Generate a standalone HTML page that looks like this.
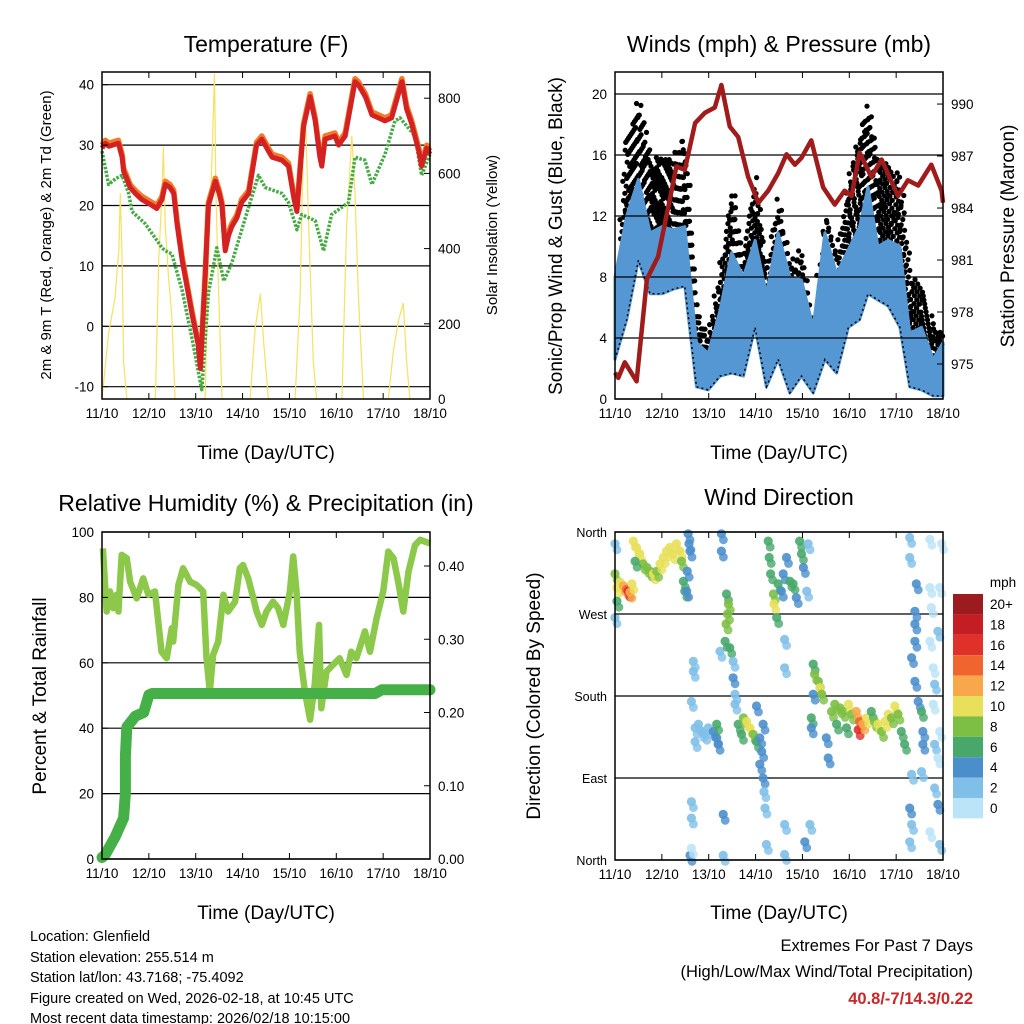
<!DOCTYPE html>
<html><head><meta charset="utf-8">
<style>
html,body{margin:0;padding:0;background:#fff;}
svg{display:block;font-family:"Liberation Sans",sans-serif;}
</style></head>
<body>
<svg id="s" width="1024" height="1024" viewBox="0 0 1024 1024" xmlns="http://www.w3.org/2000/svg">
<rect width="1024" height="1024" fill="#fff"/>
<g id="g"></g>
<g font-size="23" text-anchor="middle" fill="#000">
<text x="266" y="52">Temperature (F)</text>
<text x="779" y="52">Winds (mph) &amp; Pressure (mb)</text>
<text x="266" y="511">Relative Humidity (%) &amp; Precipitation (in)</text>
<text x="779" y="505">Wind Direction</text>
</g>
<g font-size="19" text-anchor="middle">
<text x="266" y="459">Time (Day/UTC)</text>
<text x="779" y="459">Time (Day/UTC)</text>
<text x="266" y="919">Time (Day/UTC)</text>
<text x="779" y="919">Time (Day/UTC)</text>
<text transform="translate(51,235) rotate(-90)" font-size="15">2m &amp; 9m T (Red, Orange) &amp; 2m Td (Green)</text>
<text transform="translate(497,235) rotate(-90)" font-size="15">Solar Insolation (Yellow)</text>
<text transform="translate(562,236) rotate(-90)">Sonic/Prop Wind &amp; Gust (Blue, Black)</text>
<text transform="translate(1014,236) rotate(-90)">Station Pressure (Maroon)</text>
<text transform="translate(46,696) rotate(-90)">Percent &amp; Total Rainfall</text>
<text transform="translate(540,696) rotate(-90)">Direction (Colored By Speed)</text>
</g>
<g font-size="14.5" fill="#000">
<text x="30" y="941">Location: Glenfield</text>
<text x="30" y="962">Station elevation: 255.514 m</text>
<text x="30" y="982">Station lat/lon: 43.7168; -75.4092</text>
<text x="30" y="1003">Figure created on Wed, 2026-02-18, at 10:45 UTC</text>
<text x="30" y="1023">Most recent data timestamp: 2026/02/18 10:15:00</text>
</g>
<g font-size="16.5" text-anchor="end">
<text x="973" y="951">Extremes For Past 7 Days</text>
<text x="973" y="977">(High/Low/Max Wind/Total Precipitation)</text>
<text x="973" y="1004" fill="#c8282a" font-weight="bold">40.8/-7/14.3/0.22</text>
</g>
</svg>
<script>
const dayLabels=["11/10","12/10","13/10","14/10","15/10","16/10","17/10","18/10"];
const tempT=[0,0.07,0.15,0.35,0.43,0.46,0.6,0.71,0.85,1.07,1.17,1.28,1.35,1.45,1.53,1.6,1.71,1.85,1.92,2.05,2.1,2.2,2.27,2.42,2.5,2.56,2.63,2.7,2.77,2.88,2.98,3.13,3.3,3.41,3.55,3.63,3.84,3.98,4.1,4.16,4.3,4.44,4.55,4.65,4.69,4.76,4.97,5.05,5.19,5.4,5.47,5.62,5.76,6.04,6.18,6.4,6.5,6.61,6.76,6.82,6.93,7];
const temp2m=[29.5,30.3,29.8,30.3,28,25.7,23,22,21,20,19.5,21,23.5,23,22,17,11,5,2,-3,-7,8,20,24,22,20,12.5,15,16.5,18,20.5,22,30,31,29,28,27.5,26.5,21,19,33,38,34,28,26.5,31,31.5,30,31.5,40.5,40,38,35,34,34.5,40.5,36,33.5,29,26.5,29.5,28.5];
const tdT=[0,0.14,0.3,0.43,0.57,0.64,0.92,1.28,1.35,1.49,1.71,1.92,2.13,2.27,2.45,2.6,2.77,3.06,3.34,3.48,3.84,3.98,4.16,4.26,4.55,4.73,4.9,5.26,5.4,5.61,5.76,6.04,6.25,6.36,6.68,6.82,7];
const dew2m=[29,23.5,24.5,25,22,19,17,13,12.5,12,6,-2,-10.5,5.5,13,7.5,10.5,18,25,23,22,20.5,16,18.5,17.5,12.5,18.5,20.5,28,27.5,23.5,28.5,34,34.5,31.5,25,28.5];
const solarT=[0,0.14,0.28,0.36,0.39,0.43,0.46,0.53,1.14,1.21,1.28,1.31,1.35,1.42,1.49,1.56,2.2,2.27,2.35,2.4,2.43,2.49,2.56,3.16,3.27,3.38,3.45,3.55,4.12,4.23,4.3,4.35,4.41,4.51,4.58,5.12,5.22,5.33,5.4,5.47,5.58,6.11,6.22,6.33,6.43,6.5,6.57,7];
const solarV=[0,175,270,400,547,370,100,0,0,370,547,670,460,325,220,0,0,370,650,865,547,280,0,0,190,280,150,0,0,280,700,725,460,100,0,0,460,700,547,280,0,0,130,210,255,100,0,0];
const windT=[0,0.25,0.5,0.75,1.0,1.24,1.49,1.74,1.99,2.24,2.49,2.74,2.99,3.23,3.48,3.73,3.98,4.23,4.48,4.73,4.98,5.22,5.4,5.61,5.83,6.08,6.29,6.54,6.79,7.0];
const blueHi=[8.0,12.0,14.4,10.9,11.3,11.1,11.3,3.7,3.0,5.8,9.6,8.0,10.4,6.9,10.9,8.0,7.8,4.7,10.9,8.2,9.8,11.3,13.9,10.0,10.4,10.0,4.3,4.7,2.6,3.7];
const blueLo=[2.6,5.2,9.1,6.9,6.9,7.2,7.4,0.8,0.6,1.5,1.7,1.5,4.7,0.8,2.6,0.4,1.5,0.4,2.6,1.7,4.7,5.2,6.9,6.5,6.1,4.7,0.8,0.6,0.2,0.2];
const gustHi=[4.7,16.8,19.6,15.9,15.7,15.7,17.2,5.8,4.1,8.0,13.9,9.1,14.8,8.0,13.1,8.7,9.8,4.7,12.2,9.1,13.9,17.4,19.2,15.7,15.3,14.6,8.0,7.4,4.7,4.3];
const presT=[0,0.07,0.21,0.46,0.68,0.92,1.14,1.31,1.49,1.71,1.92,2.13,2.27,2.45,2.63,2.84,3.06,3.27,3.48,3.66,3.84,3.98,4.19,4.44,4.69,4.9,5.05,5.22,5.47,5.69,6.04,6.25,6.47,6.75,6.97,7.0];
const presV=[974.5,974.2,975.1,974.0,979.9,981.2,984.1,986.4,986.2,988.9,989.5,989.8,991.1,988.7,988.1,985.8,984.3,985.0,986.0,987.1,986.5,986.9,987.9,985.2,984.2,985.0,984.7,987.2,985.8,986.8,984.7,985.6,985.3,986.5,985.0,984.3];
const rhT=[0.02,0.1,0.17,0.24,0.31,0.35,0.42,0.53,0.6,0.74,0.88,0.99,1.13,1.27,1.38,1.49,1.52,1.63,1.73,1.88,2.02,2.16,2.23,2.3,2.37,2.48,2.59,2.69,2.84,2.94,3.01,3.12,3.23,3.3,3.41,3.51,3.65,3.76,3.87,4.01,4.08,4.15,4.22,4.33,4.44,4.54,4.63,4.68,4.79,4.93,5.07,5.22,5.32,5.43,5.61,5.72,5.86,6.0,6.11,6.22,6.32,6.43,6.54,6.68,6.79,7.0];
const rhV=[95,75.7,81.8,76.7,80.8,75.7,93,92,84.8,79.7,85.8,80.8,81.8,63.4,61.4,70.6,66.5,83.8,88.9,84.8,83.8,81.8,61.4,51.2,62.4,66.5,80.8,75.7,78.7,88.9,89.9,85.8,79.7,75.7,71.6,75.7,78.7,76.7,71.6,81.8,92.5,81.8,63.4,51.2,42.6,53.3,71.6,46.1,57.3,59.4,61.4,56.3,63.4,61.4,69.6,63.4,73.6,81.8,94,92,84.8,75.7,87.9,96,97.6,96.5];
const prT=[0,0.07,0.28,0.46,0.5,0.5,0.53,0.71,0.89,1.0,1.07,5.83,5.97,7];
const prV=[0.002,0.006,0.03,0.056,0.09,0.14,0.18,0.195,0.2,0.224,0.226,0.226,0.231,0.231];
const dirDay=[0,0.04,0.11,0.18,0.25,0.28,0.32,0.36,0.04,0,0,0.39,0.46,0.53,0.6,0.68,0.75,0.82,0.89,0.96,1.03,1.1,1.17,1.24,1.31,1.39,1.42,1.46,1.49,0.43,1.56,1.58,1.6,1.54,1.53,1.67,1.67,1.63,1.71,1.78,1.85,1.92,1.99,1.71,2.1,2.17,2.2,2.17,1.63,1.63,1.6,1.63,2.27,2.27,2.31,2.31,2.24,2.38,2.42,2.4,2.37,2.35,2.45,2.52,2.52,2.56,2.56,2.63,2.7,2.74,2.81,2.88,2.95,3.02,3.09,3.13,3.09,3.16,3.18,3.2,3.16,3.02,3.27,3.29,3.32,3.38,3.39,3.45,3.48,3.55,3.59,3.66,3.73,3.8,3.87,3.94,3.98,4.02,4.09,4.12,3.62,3.62,3.62,3.23,4.05,4.16,3.62,4.23,4.26,4.34,4.37,4.41,4.23,4.19,4.19,4.55,4.51,4.62,4.69,4.8,4.87,4.98,5.05,5.15,5.22,5.19,5.29,5.37,5.47,5.54,5.61,5.69,5.76,5.83,5.9,5.97,6.04,6.11,6.18,4.73,4.94,6.29,6.29,6.43,6.4,6.4,6.4,6.33,6.4,6.47,6.54,6.57,6.57,6.54,6.33,6.29,6.33,6.29,6.72,6.72,6.75,6.72,6.79,6.82,6.79,6.89,6.93,6.82,6.89,6.82,6.89,6.93,6.97,6.93,6.72];
const dirDeg=[314,299,305,301,297,295,294,303,284,347,266,350,343,336,325,321,317,314,317,325,332,339,343,336,347,339,328,306,295,328,358,347,339,317,295,218,207,174,145,149,141,138,145,130,141,134,127,149,64,46,5,13,358,339,50,5,229,292,281,270,259,240,233,218,200,182,171,149,138,156,152,145,138,130,134,119,105,90,75,57,149,169,350,332,314,292,281,266,303,295,314,332,306,303,288,350,336,321,295,347,242,211,39,17,20,39,6,215,204,196,189,182,182,156,145,112,134,163,171,167,163,171,160,163,152,143,149,156,163,152,149,141,152,160,156,169,160,141,127,149,145,354,332,303,273,259,240,222,196,174,163,141,127,97,94,57,39,20,352,299,277,240,211,193,171,251,141,127,112,79,61,17,347,299,31];
const dirSpd=[8,10,10,12,14,16,12,10,6,2,2,10,10,10,8,8,8,10,8,10,10,10,10,10,10,10,8,6,6,6,4,4,4,4,4,2,2,2,2,2,2,2,2,2,4,4,4,6,2,2,4,1,4,4,4,2,2,6,8,8,8,6,6,2,4,2,2,6,6,8,10,10,8,6,4,4,4,4,2,2,4,4,6,6,6,8,10,6,6,4,4,4,6,6,4,6,6,4,2,2,2,2,2,2,4,2,2,6,8,8,10,8,4,6,4,4,4,8,8,8,8,10,8,12,14,16,12,10,6,8,10,8,10,10,8,10,8,6,6,6,6,2,2,4,4,4,4,4,4,4,6,4,4,2,2,4,2,2,0,0,1,1,1,2,1,2,1,2,1,2,4,2,1,1,1];
const speedLabels=["20+","18","16","14","12","10","8","6","4","2","0"];
const speedColors=["#9b1b1e","#c41e24","#e0302a","#f06430","#f8a84a","#e8e05a","#7cbf44","#48a86a","#4a8fcc","#80bfe8","#bce4f8"];

const NS="http://www.w3.org/2000/svg";
const G=document.getElementById('g');
function mk(tag,at,parent){const e=document.createElementNS(NS,tag);for(const k in at)e.setAttribute(k,at[k]);(parent||G).appendChild(e);return e;}
function path(xs,ys,fx,fy){return xs.map((t,i)=>(i?'L':'M')+fx(t).toFixed(1)+','+fy(ys[i]).toFixed(1)).join('');}
function colorFor(s){let i=Math.min(10,Math.floor(s/2));return speedColors[10-i];}
function interp(xs,ys,t){for(let i=1;i<xs.length;i++){if(t<=xs[i]){const f=(t-xs[i-1])/(xs[i]-xs[i-1]||1);return ys[i-1]+f*(ys[i]-ys[i-1]);}}return ys[ys.length-1];}

const P1={l:102,r:430,t:72,b:399},P2={l:615,r:943,t:72,b:399},P3={l:102,r:430,t:532,b:859},P4={l:615,r:943,t:532,b:860};
const xs1=d=>102+d*46.86, xs2=d=>615+d*46.86;
const yT=v=>326.3-v*6.04, ySol=v=>399-v*0.376;
const yW=v=>399-v*15.25, yP=v=>364-(v-975)*17.33;
const yRH=v=>859-v*3.27, yPr=v=>859-v*732.5;
const yD=v=>860-v*0.9111;

function grid(P,vals,fy,name){vals.forEach(v=>{const l=mk('line',{x1:P.l,x2:P.r,y1:fy(v),y2:fy(v),stroke:'#000','stroke-width':1.2});});}
function frame(P,fx,name){
  const r=mk('rect',{x:P.l,y:P.t,width:P.r-P.l,height:P.b-P.t,fill:'none',stroke:'#000','stroke-width':1.5});
  
  dayLabels.forEach((lab,i)=>{const x=fx(i);
    mk('line',{x1:x,x2:x,y1:P.b,y2:P.b-6,stroke:'#000'});mk('line',{x1:x,x2:x,y1:P.t,y2:P.t+6,stroke:'#000'});
    const t=mk('text',{x:x,y:P.b+19,'font-size':13.5,'text-anchor':'middle'});t.textContent=lab;
    });
}
function leftTicks(P,vals,labels,fy,fs){vals.forEach((v,i)=>{const y=fy(v);mk('line',{x1:P.l,x2:P.l+6,y1:y,y2:y,stroke:'#000'});const t=mk('text',{x:P.l-8,y:y+5,'font-size':fs||13.5,'text-anchor':'end'});t.textContent=labels[i];});}
function rightTicks(P,vals,labels,fy){vals.forEach((v,i)=>{const y=fy(v);mk('line',{x1:P.r,x2:P.r-6,y1:y,y2:y,stroke:'#000'});const t=mk('text',{x:P.r+8,y:y+5,'font-size':13.5,'text-anchor':'start'});t.textContent=labels[i];});}

// Panel 1: Temperature
const tVals=[-10,0,10,20,30,40];
grid(P1,tVals,yT,'temp-gridline');
const sol=mk('path',{d:path(solarT,solarV,xs1,ySol),fill:'none',stroke:'#f8e060','stroke-width':1.2});

const tdL=mk('path',{d:path(tdT,dew2m,xs1,yT),fill:'none',stroke:'#44aa44','stroke-width':3.5,'stroke-dasharray':'2.5 1.5','stroke-linejoin':'round'});

const t9=mk('path',{d:path(tempT,temp2m.map(v=>v+0.5),xs1,yT),fill:'none',stroke:'#f47a2a','stroke-width':5.5,'stroke-linejoin':'round'});

const t2=mk('path',{d:path(tempT,temp2m,xs1,yT),fill:'none',stroke:'#d42222','stroke-width':5,'stroke-linejoin':'round'});

frame(P1,xs1,'temperature-plot-frame');
leftTicks(P1,tVals,tVals.map(String),yT);
rightTicks(P1,[0,200,400,600,800],["0","200","400","600","800"],ySol);

// Panel 2: Winds
const wVals=[0,4,8,12,16,20];
const gustG=mk('g',{fill:'#000'});

let k=0;
for(let t=0;t<=7.0001;t+=0.03){
  const hi=interp(windT,gustHi,t), lo=interp(windT,blueHi,t);
  const yh=yW(hi), yl=yW(lo)+4;
  for(let y=yh+(k%4)*3;y<yl;y+=12){
    mk('circle',{cx:(xs2(t)+((k*7+Math.round(y))%5)-2).toFixed(1),cy:y.toFixed(1),r:2.6},gustG);
  }
  k++;
}
const bb=mk('path',{d:path(windT,blueHi,xs2,yW)+path(windT.slice().reverse(),blueLo.slice().reverse(),xs2,yW).replace('M','L')+'Z',fill:'#5497d3',stroke:'#5497d3','stroke-width':3,'stroke-linejoin':'round'});

const bl=mk('path',{d:path(windT,blueLo,xs2,yW),fill:'none',stroke:'#000','stroke-width':1.5,'stroke-dasharray':'2 3'});

grid(P2,wVals,yW,'wind-gridline');
const pl=mk('path',{d:path(presT,presV,xs2,yP),fill:'none',stroke:'#a01c1c','stroke-width':4.5,'stroke-linejoin':'round'});

frame(P2,xs2,'winds-plot-frame');
leftTicks(P2,wVals,wVals.map(String),yW);
rightTicks(P2,[975,978,981,984,987,990],["975","978","981","984","987","990"],yP);

// Panel 3: RH & precip
const rVals=[0,20,40,60,80,100];
grid(P3,rVals,yRH,'rh-gridline');
const rhl=mk('path',{d:path(rhT,rhV,xs1,yRH),fill:'none',stroke:'#8cc84a','stroke-width':6.5,'stroke-linejoin':'round'});

const prl=mk('path',{d:path(prT,prV,xs1,yPr),fill:'none',stroke:'#46b048','stroke-width':11,'stroke-linejoin':'round','stroke-linecap':'round'});

frame(P3,xs1,'rh-plot-frame');
leftTicks(P3,rVals,rVals.map(String),yRH);
rightTicks(P3,[0,0.1,0.2,0.3,0.4],["0.00","0.10","0.20","0.30","0.40"],yPr);

// Panel 4: Wind direction
const dVals=[0,90,180,270,360];
grid(P4,dVals,yD,'direction-gridline');
dirDay.forEach((d,i)=>{
  const c=mk('circle',{cx:xs2(d).toFixed(1),cy:yD(dirDeg[i]).toFixed(1),r:4.6,fill:colorFor(dirSpd[i]),'fill-opacity':0.9});
  
  
  const c2=mk('circle',{cx:(xs2(d)+2).toFixed(1),cy:(yD(dirDeg[i])+6).toFixed(1),r:4.4,fill:colorFor(dirSpd[i]),'fill-opacity':0.8});
  
  
});
frame(P4,xs2,'direction-plot-frame');
leftTicks(P4,dVals,["North","East","South","West","North"],yD,12.5);

// Colorbar
const cbT=mk('text',{x:1003,y:587,'font-size':13.5,'text-anchor':'middle'});cbT.textContent='mph';

speedLabels.forEach((lab,i)=>{const y=594+i*20.4;
  const r=mk('rect',{x:953,y:y,width:30,height:20.4,fill:speedColors[i]});
  
  const t=mk('text',{x:990,y:y+15,'font-size':13.5});t.textContent=lab;
  });
</script>
</body></html>
